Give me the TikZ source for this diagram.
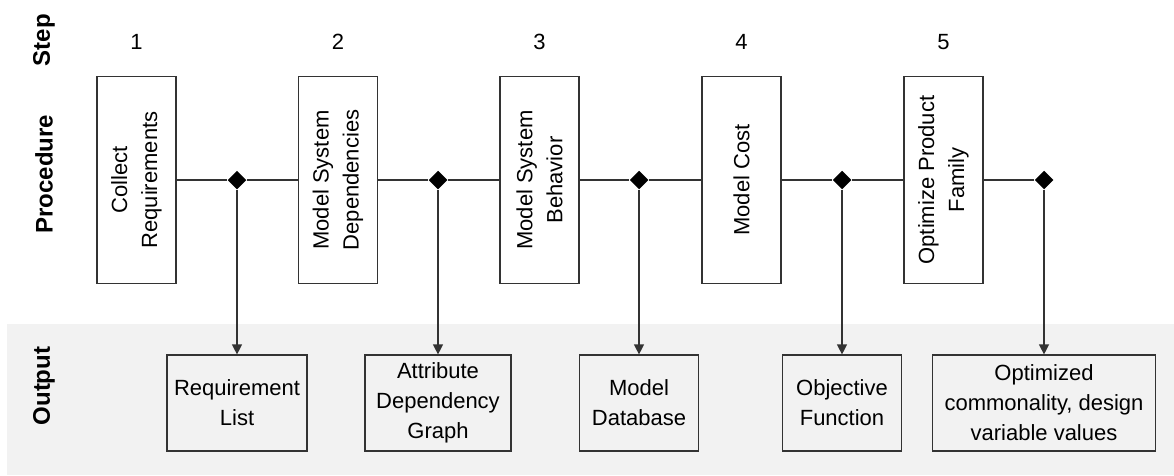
\documentclass[tikz,border=0pt]{standalone}
\usepackage{fontspec}
\setmainfont{Liberation Sans}
\usetikzlibrary{positioning,arrows.meta,shapes.geometric}

\definecolor{linegray}{HTML}{333333}
\definecolor{bandgray}{HTML}{F2F2F2}

\tikzset{
  rowlabel/.style={rotate=90, inner sep=0pt, font=\bfseries\fontsize{24}{28}\selectfont},
  stepnum/.style={inner sep=0pt, font=\fontsize{22}{30}\selectfont},
  procbox/.style={draw=linegray, rotate=90, minimum width=207pt, minimum height=79pt,
    inner sep=0pt, align=center, font=\fontsize{22}{30}\selectfont},
  outbox/.style={draw=linegray, minimum height=96pt, inner sep=0pt, align=center,
    font=\fontsize{22}{30}\selectfont},
  junction/.style={diamond, fill=black, minimum size=19pt, inner sep=0pt},
  flow/.style={draw=linegray},
  result/.style={draw=linegray, -{Triangle[width=10pt,length=10pt]}},
}

\begin{document}
\begin{tikzpicture}[x=1pt, y=-1pt, line width=1.2pt]
 \useasboundingbox (0,0) rectangle (1174,475);
 \fill[bandgray] (7,324) rectangle (1174,475);

 % row labels
 \node[rowlabel] (step) at (44,40) {Step};
 \node[rowlabel] (procedure) at (44,174) {Procedure};
 \node[rowlabel] (output) at (44,386) {Output};

 % step numbers
 \node[stepnum] (s1) at (136.5,42) {1};
 \node[stepnum] (s2) at (338,42) {2};
 \node[stepnum] (s3) at (539.5,42) {3};
 \node[stepnum] (s4) at (741.5,42) {4};
 \node[stepnum] (s5) at (943.5,42) {5};

 % procedure
 \node[procbox] (p1) at (136.5,180) {Collect\\Requirements};
 \node[procbox] (p2) at (338,180) {Model System\\Dependencies};
 \node[procbox] (p3) at (539.5,180) {Model System\\Behavior};
 \node[procbox] (p4) at (741.5,180) {Model Cost};
 \node[procbox] (p5) at (943.5,180) {Optimize Product\\Family};

 \node[junction] (j1) at (237,180) {};
 \node[junction] (j2) at (438,180) {};
 \node[junction] (j3) at (639,180) {};
 \node[junction] (j4) at (842,180) {};
 \node[junction] (j5) at (1044,180) {};

 % output
 \node[outbox, minimum width=140pt] (o1) at (237,403) {Requirement\\List};
 \node[outbox, minimum width=146pt] (o2) at (438,403) {Attribute\\Dependency\\Graph};
 \node[outbox, minimum width=119pt] (o3) at (639,403) {Model\\Database};
 \node[outbox, minimum width=119pt] (o4) at (842,403) {Objective\\Function};
 \node[outbox, minimum width=223pt] (o5) at (1044,403) {Optimized\\commonality, design\\variable values};

 \draw[flow] (p1) -- (j1) -- (p2) -- (j2) -- (p3) -- (j3) -- (p4) -- (j4) -- (p5) -- (j5);
 \draw[result] (j1) -- (o1);
 \draw[result] (j2) -- (o2);
 \draw[result] (j3) -- (o3);
 \draw[result] (j4) -- (o4);
 \draw[result] (j5) -- (o5);
\end{tikzpicture}
\end{document}
